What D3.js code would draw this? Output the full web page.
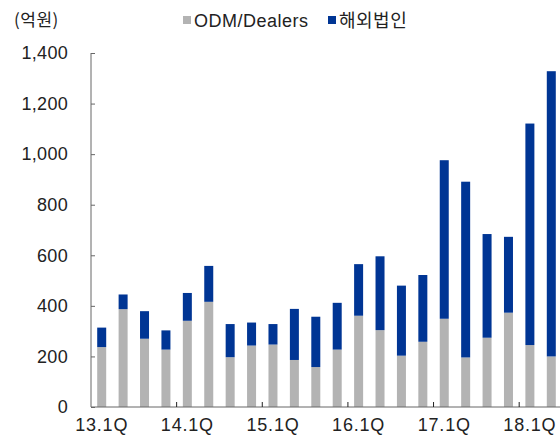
<!DOCTYPE html>
<html>
<head>
<meta charset="utf-8">
<script src="https://cdn.jsdelivr.net/npm/d3@7"></script>
<style>
  body { margin: 0; background: #fff; }
  svg text { font-family: "Liberation Sans", Arial, sans-serif; fill: #222; }
  .kr { font-family: "Noto Sans CJK KR", "Liberation Sans", sans-serif; }
</style>
</head>
<body>
<div id="chart"></div>
<script>
// quarters 13.1Q .. 18.2Q
const quarters = ['13.1Q','13.2Q','13.3Q','13.4Q','14.1Q','14.2Q','14.3Q','14.4Q',
  '15.1Q','15.2Q','15.3Q','15.4Q','16.1Q','16.2Q','16.3Q','16.4Q',
  '17.1Q','17.2Q','17.3Q','17.4Q','18.1Q','18.2Q'];
// ODM/Dealers (억원)
const odm = [237, 387, 270, 227, 341, 416, 197, 243, 247, 186, 158, 227,
  361, 304, 203, 258, 349, 196, 274, 373, 245, 200];
// 해외법인 (억원)
const overseas = [77, 58, 109, 76, 110, 142, 131, 91, 81, 202, 199, 185,
  204, 292, 277, 264, 627, 695, 410, 300, 876, 1128];
const yTicks = [0, 200, 400, 600, 800, 1000, 1200, 1400];

const width = 560, height = 436;
const colors = {odm: '#b3b3b3', overseas: '#003594'};

let svg = d3.select('#chart').append('svg')
  .attr('width', width)
  .attr('height', height);

let x = d3.scaleBand().domain(quarters).range([91, 562]).padding(0);
let y = d3.scaleLinear().domain([0, 1400]).range([407, 53]);

const rows = quarters.map((q, i) => ({q: q, odm: odm[i], overseas: overseas[i]}));
const stacked = d3.stack().keys(['odm', 'overseas'])(rows);

const barW = 9;

svg.append('g').selectAll('g')
  .data(stacked)
  .enter().append('g')
  .attr('fill', d => colors[d.key])
  .selectAll('rect')
  .data(d => d)
  .enter().append('rect')
  .attr('x', d => x(d.data.q) + x.bandwidth() / 2 - barW / 2)
  .attr('width', barW)
  .attr('y', d => y(d[1]))
  .attr('height', d => y(d[0]) - y(d[1]));

// y axis
let yAxis = svg.append('g')
  .attr('transform', 'translate(91,0)')
  .call(d3.axisLeft(y).tickValues(yTicks).tickSize(-4).tickPadding(23)
    .tickFormat(d3.format(',')));
yAxis.selectAll('text').style('font-size', '18px').style('letter-spacing', '0.3px');
yAxis.selectAll('line, path').attr('stroke', '#666');
yAxis.select('.domain').attr('d', 'M0,53V407');

// x axis: labels each year, ticks at year boundaries
let labelled = quarters.filter((q, i) => i % 4 === 0);
let xAxis = svg.append('g')
  .attr('transform', 'translate(0,407)')
  .call(d3.axisBottom(x).tickValues(labelled).tickSize(0).tickPadding(11));
xAxis.selectAll('text').style('font-size', '18px').style('letter-spacing', '0.8px');
xAxis.select('.domain').attr('stroke', '#666').attr('d', 'M91,0H562');

svg.append('g').selectAll('line')
  .data(quarters.filter((q, i) => i > 0 && i % 4 === 0))
  .enter().append('line')
  .attr('x1', d => x(d)).attr('x2', d => x(d))
  .attr('y1', 407).attr('y2', 402)
  .attr('stroke', '#222');

// unit label
svg.append('text').attr('class', 'kr')
  .attr('x', 14).attr('y', 26)
  .style('font-size', '17px')
  .style('letter-spacing', '0.5px')
  .text('(억원)');

// legend
const legend = [
  {name: 'ODM/Dealers', color: colors.odm, x: 183, cls: '', ls: '0.5px'},
  {name: '해외법인', color: colors.overseas, x: 328, cls: 'kr', ls: '0.5px'}
];
let lg = svg.append('g').selectAll('g')
  .data(legend)
  .enter().append('g')
  .attr('transform', d => `translate(${d.x},16)`);
lg.append('rect').attr('width', 8).attr('height', 8).attr('fill', d => d.color);
lg.append('text')
  .attr('class', d => d.cls)
  .attr('x', 11).attr('y', 11)
  .style('font-size', '18px')
  .style('letter-spacing', d => d.ls)
  .text(d => d.name);
</script>
</body>
</html>
